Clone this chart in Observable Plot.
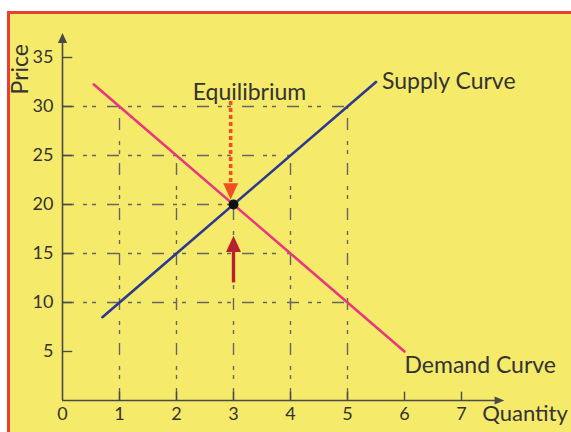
<!DOCTYPE html>
<html>
<head>
<meta charset="utf-8">
<script src="https://cdn.jsdelivr.net/npm/d3@7"></script>
<script src="https://cdn.jsdelivr.net/npm/@observablehq/plot@0.6"></script>
<style>
  html, body { margin: 0; padding: 0; background: #ffffff; }
  #wrap { position: relative; width: 571px; height: 432px; overflow: hidden; }
  #panel { position: absolute; left: 7px; top: 11px; right: 0; bottom: 0;
           background: #f6ea6b; border-top: 3px solid #e8402e; border-left: 3px solid #e8402e; }
  #chart { position: absolute; left: 0; top: 0; }
  #chart svg { background: transparent; }
</style>
</head>
<body>
<div id="wrap"><div id="panel"></div><div id="chart"></div></div>
<script>
// ---- data ----
const supplyQ = [0.7, 5.5];
const supplyP = [8.5, 32.5];
const demandQ = [0.55, 6.0];
const demandP = [32.25, 5.0];
const equilibriumQ = [3];
const equilibriumP = [20];
const xTicks = [0, 1, 2, 3, 4, 5, 6, 7];
const yTicks = [5, 10, 15, 20, 25, 30, 35];
const gridHP = [30, 25, 20, 15, 10];   // price level
const gridHQ = [5, 4, 3, 4, 5];        // extends to quantity
const gridVQ = [1, 2, 3, 4, 5];        // quantity
const gridVP = [30, 25, 20, 25, 30];   // extends to price
const xAxisEnd = 7.75;
const yAxisEnd = 37.5;
const downArrowFrom = [30.5], downArrowTo = [20.5];
const upArrowFrom = [12], upArrowTo = [16.8];

const supply = supplyQ.map((q, i) => ({q, p: supplyP[i]}));
const demand = demandQ.map((q, i) => ({q, p: demandP[i]}));
const gridH = gridHP.map((p, i) => ({p, q: gridHQ[i]}));
const gridV = gridVQ.map((q, i) => ({q, p: gridVP[i]}));

// custom triangle symbols with tip at origin
const triDown = {draw(c, size) { const r = Math.sqrt(size / Math.PI); const w = 1.15 * r, h = 2.5 * r;
  c.moveTo(-w, -h); c.lineTo(w, -h); c.lineTo(0, 0); c.closePath(); }};
const triUp = {draw(c, size) { const r = Math.sqrt(size / Math.PI); const w = 1.15 * r, h = 2.5 * r;
  c.moveTo(-w, h); c.lineTo(w, h); c.lineTo(0, 0); c.closePath(); }};
const triRight = {draw(c, size) { const r = Math.sqrt(size / Math.PI); const w = 1.0 * r, h = 2.4 * r;
  c.moveTo(-h, -w); c.lineTo(-h, w); c.lineTo(0, 0); c.closePath(); }};

const grid = {stroke: "#666", strokeWidth: 1.4, strokeDasharray: "12,9,4,5,4,11"};
const axisColor = "#4a4a4a";
const font = "Lato, 'Open Sans', sans-serif";
const labelSize = 23;
const tickFont = 18;

const plot = Plot.plot({
  width: 571, height: 432,
  marginLeft: 62, marginRight: 53, marginTop: 8, marginBottom: 32,
  x: {domain: [0, 8], axis: null},
  y: {domain: [0, 40], axis: null},
  style: {background: "transparent", fontFamily: font, color: "#333"},
  marks: [
    Plot.ruleY(gridH, {y: "p", x1: () => 0, x2: "q", ...grid}),
    Plot.ruleX(gridV, {x: "q", y1: () => 0, y2: "p", ...grid}),
    // axes lines
    Plot.ruleY([0], {x1: () => 0, x2: () => xAxisEnd - 0.1, stroke: axisColor, strokeWidth: 1.6}),
    Plot.ruleX([0], {y1: () => 0, y2: () => yAxisEnd - 0.5, stroke: axisColor, strokeWidth: 1.6}),
    Plot.dot([xAxisEnd], {x: d => d, y: () => 0, symbol: triRight, r: 4, fill: axisColor, stroke: null}),
    Plot.dot([yAxisEnd], {x: () => 0, y: d => d, symbol: triUp, r: 4, fill: axisColor, stroke: null}),
    // inward ticks
    Plot.ruleX(xTicks.slice(1), {x: d => d, y1: () => 0, y2: () => 0.85, stroke: axisColor, strokeWidth: 1.4}),
    Plot.ruleY(yTicks, {y: d => d, x1: () => 0, x2: () => 0.18, stroke: axisColor, strokeWidth: 1.4}),
    // tick labels
    Plot.text(xTicks, {x: d => d, y: () => 0, text: d => String(d), dy: 14, fontSize: tickFont, fill: "#333"}),
    Plot.text(yTicks, {x: () => 0, y: d => d, text: d => String(d), dx: -9, textAnchor: "end", fontSize: tickFont, fill: "#333"}),
    // curves
    Plot.line(supply, {x: "q", y: "p", stroke: "#2b3990", strokeWidth: 2.6}),
    Plot.line(demand, {x: "q", y: "p", stroke: "#e8377c", strokeWidth: 2.6}),
    // arrows
    Plot.ruleX(equilibriumQ, {x: d => d - 0.05, y1: (d, i) => downArrowFrom[i], y2: (d, i) => downArrowTo[i] + 1.6,
      stroke: "#f04f24", strokeWidth: 3.6, strokeDasharray: "4,3"}),
    Plot.dot(equilibriumQ, {x: d => d - 0.05, y: (d, i) => downArrowTo[i], symbol: triDown, r: 6.5, fill: "#f04f24", stroke: null}),
    Plot.ruleX(equilibriumQ, {x: d => d, y1: (d, i) => upArrowFrom[i], y2: (d, i) => upArrowTo[i] - 1.2,
      stroke: "#b5222b", strokeWidth: 3.4}),
    Plot.dot(equilibriumQ, {x: d => d, y: (d, i) => upArrowTo[i], symbol: triUp, r: 6.5, fill: "#b5222b", stroke: null}),
    Plot.dot(equilibriumQ, {x: d => d, y: (d, i) => equilibriumP[i], r: 5, fill: "#111", stroke: null}),
    // labels
    Plot.text(["Equilibrium"], {x: () => 3.28, y: () => 31.4, text: d => d, fontSize: labelSize, fill: "#333"}),
    Plot.text(["Supply Curve"], {x: () => supplyQ[1], y: () => supplyP[1], text: d => d, textAnchor: "start", dx: 6, dy: 0, fontSize: labelSize, fill: "#333"}),
    Plot.text(["Demand Curve"], {x: () => demandQ[1], y: () => demandP[1], text: d => d, textAnchor: "start", dx: 0, dy: 14, fontSize: labelSize, fill: "#333"}),
    Plot.text(["Quantity"], {x: () => 7.4, y: () => 0, text: d => d, textAnchor: "start", dx: -2, dy: 13, fontSize: 22, fill: "#333"}),
    Plot.text(["Price"], {x: () => 0, y: () => 33.8, text: d => d, rotate: -90, dx: -42, fontSize: labelSize, fill: "#333"})
  ]
});
document.getElementById("chart").appendChild(plot);
</script>
</body>
</html>
